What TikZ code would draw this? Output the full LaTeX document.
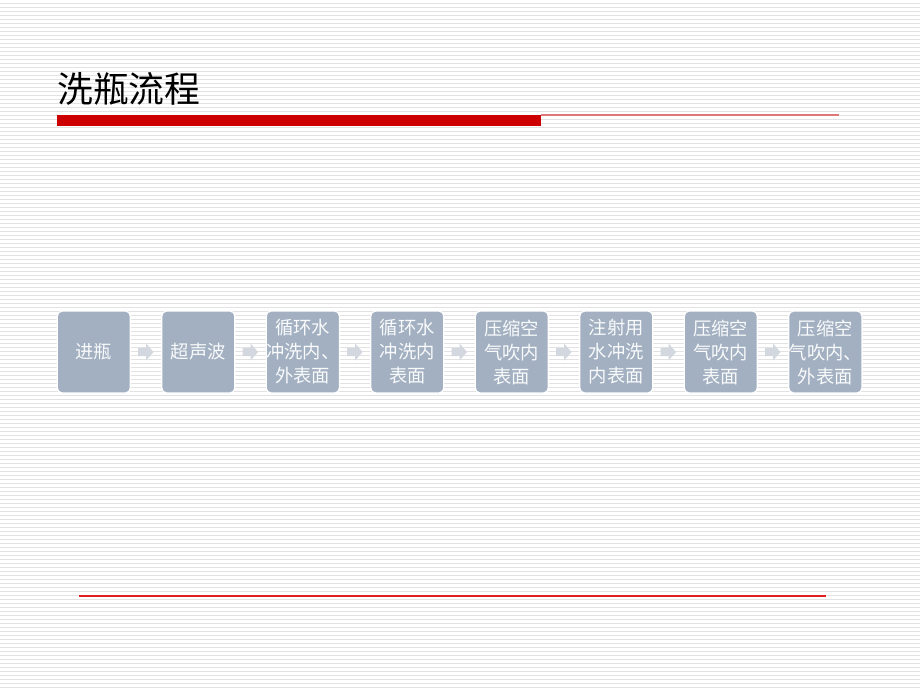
\documentclass[tikz,border=0pt]{standalone}
\usepackage{fontspec}
\newfontfamily\cjk{Noto Sans CJK SC}
\definecolor{stripe}{HTML}{E2E2E2}
\definecolor{boxfill}{HTML}{A2B0C1}
\definecolor{arrowc}{HTML}{D3D8E0}
\definecolor{redbar}{HTML}{CC0000}
\definecolor{redthin}{HTML}{E07878}
\definecolor{redline}{HTML}{E02020}
\tikzset{
  stepbox/.style={draw=white, line width=1.2pt, fill=boxfill, rounded corners=5pt,
    minimum width=73pt, minimum height=82pt, inner sep=0pt,
    text=white!94!boxfill, font=\cjk\fontsize{18.3}{24}\selectfont, align=center},
  flowarrow/.style={fill=arrowc, draw=none}
}
\begin{document}
\begin{tikzpicture}[x=1pt,y=-1pt]
\useasboundingbox (0,0) rectangle (920,690);
\fill[white] (0,0) rectangle (920,690);
\foreach \k in {0,...,172} {
  \fill[stripe] (0,3+4*\k) rectangle (920,4.2+4*\k);
}
% title
\node[anchor=west, inner sep=0pt, font=\cjk\fontsize{35.8}{40}\selectfont] (title) at (57,89) {洗瓶流程};
\fill[redbar] (57,115) rectangle (541,125.5);
\fill[redthin] (541,114.2) rectangle (839,116.2);
\fill[redline] (79,595.3) rectangle (826,596.8);
% boxes
\node[stepbox] (b1) at (93.8,352) {进瓶};
\node[stepbox] (b2) at (198.3,352) {超声波};
\node[stepbox] (b3) at (302.8,352) {循环水\\冲洗内、\\外表面};
\node[stepbox] (b4) at (407.3,352) {循环水\\冲洗内\\表面};
\node[stepbox] (b5) at (511.8,352) {压缩空\\气吹内\\表面};
\node[stepbox] (b6) at (616.3,352) {注射用\\水冲洗\\内表面};
\node[stepbox] (b7) at (720.8,352) {压缩空\\气吹内\\表面};
\node[stepbox] (b8) at (825.3,352) {压缩空\\气吹内、\\外表面};
% arrows
\foreach \a/\b in {b1/b2,b2/b3,b3/b4,b4/b5,b5/b6,b6/b7,b7/b8} {
  \path (\a.east) -- (\b.west) coordinate[pos=0.5] (m);
  \fill[flowarrow] ([shift={(-8,-4)}]m) -- ([shift={(0,-4)}]m) -- ([shift={(0,-8.5)}]m)
     -- ([shift={(7.5,0)}]m) -- ([shift={(0,8.5)}]m) -- ([shift={(0,4)}]m)
     -- ([shift={(-8,4)}]m) -- cycle;
}
\end{tikzpicture}
\end{document}
